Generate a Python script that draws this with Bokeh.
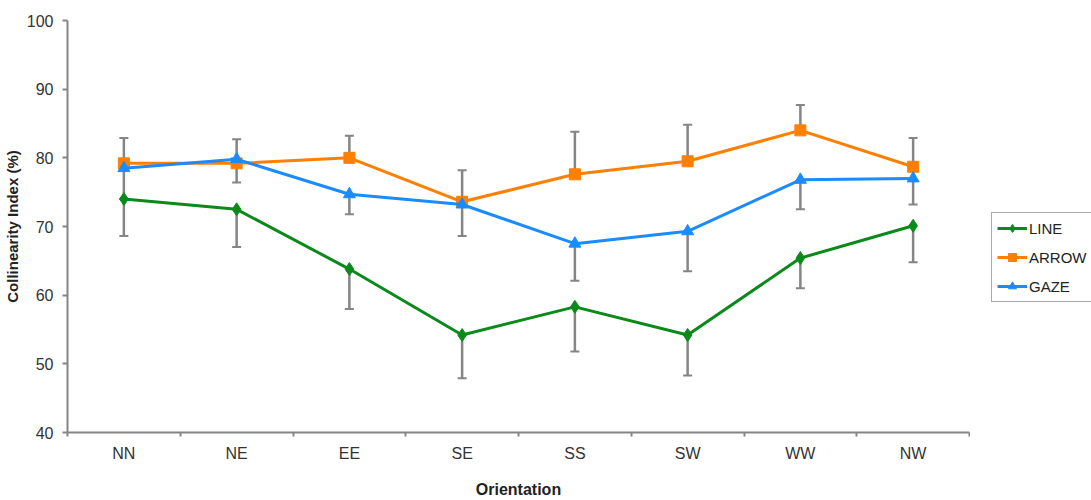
from bokeh.plotting import figure
from bokeh.layouts import row
from bokeh.models import (ColumnDataSource, Range1d, FixedTicker, Whisker, TeeHead,
                          Legend, LegendItem)
from bokeh.embed import file_html
from bokeh.resources import INLINE

# ---- data ----
orientations = ["NN", "NE", "EE", "SE", "SS", "SW", "WW", "NW"]
line_vals = [74.0, 72.5, 63.8, 54.2, 58.3, 54.2, 65.4, 70.1]
arrow_vals = [79.2, 79.2, 80.0, 73.6, 77.6, 79.5, 84.0, 78.7]
gaze_vals = [78.5, 79.8, 74.7, 73.2, 67.5, 69.3, 76.8, 77.0]
# one-sided error bars as drawn in the reference
line_err_minus = [5.4, 5.5, 5.8, 6.3, 6.5, 5.9, 4.4, 5.3]
arrow_err_plus = [3.7, 3.5, 3.2, 4.6, 6.2, 5.3, 3.7, 4.2]
gaze_err_minus = [4.5, 3.4, 2.9, 4.6, 5.4, 5.8, 4.3, 3.8]
y_ticks = [40, 50, 60, 70, 80, 90, 100]
series_labels = ["LINE", "ARROW", "GAZE"]

FONT = "Liberation Sans"
GREEN = "#0a8a1a"
ORANGE = "#ff7f00"
BLUE = "#1a8cff"
GREY = "#858585"

n = len(orientations)
xs = [i + 0.5 for i in range(n)]

H = 500
p = figure(width=970, height=H, output_backend="svg", toolbar_location=None,
           x_range=Range1d(0, n), y_range=Range1d(40, 100),
           min_border_left=67, min_border_top=20, min_border_right=1,
           min_border_bottom=68)
p.outline_line_color = None
p.xgrid.grid_line_color = None
p.ygrid.grid_line_color = None

# x axis: labels at category centres, ticks between categories
p.xaxis.ticker = FixedTicker(ticks=xs, minor_ticks=list(range(n + 1)))
p.xaxis.major_label_overrides = {x: lab for x, lab in zip(xs, orientations)}
p.xaxis.major_tick_out = 0
p.xaxis.major_tick_in = 0
p.xaxis.minor_tick_out = 4
p.xaxis.minor_tick_in = 0
p.xaxis.minor_tick_line_color = GREY
p.xaxis.axis_line_color = GREY
p.xaxis.axis_line_width = 2
p.xaxis.minor_tick_line_width = 2
p.xaxis.major_label_standoff = 8
p.xaxis.axis_label = "Orientation"
p.xaxis.axis_label_standoff = 16
p.xaxis.major_label_text_font_size = "16px"
p.xaxis.axis_label_text_font_size = "16px"

p.yaxis.ticker = FixedTicker(ticks=y_ticks)
p.yaxis.minor_tick_line_color = None
p.yaxis.major_tick_out = 5
p.yaxis.major_tick_in = 0
p.yaxis.major_tick_line_color = GREY
p.yaxis.major_tick_line_width = 2
p.yaxis.axis_line_color = GREY
p.yaxis.axis_line_width = 2
p.yaxis.major_label_standoff = 9
p.yaxis.axis_label = "Collinearity Index (%)"
p.yaxis.axis_label_standoff = 3
p.yaxis.major_label_text_font_size = "16px"
p.yaxis.axis_label_text_font_size = "15px"

for ax in (p.xaxis, p.yaxis):
    ax.major_label_text_font = FONT
    ax.major_label_text_color = "#333333"
    ax.axis_label_text_font = FONT
    ax.axis_label_text_font_style = "bold"
    ax.axis_label_text_color = "#222222"

# error bars
src = ColumnDataSource(dict(
    x=xs,
    line=line_vals, line_lo=[v - e for v, e in zip(line_vals, line_err_minus)],
    arrow=arrow_vals, arrow_hi=[v + e for v, e in zip(arrow_vals, arrow_err_plus)],
    gaze=gaze_vals, gaze_lo=[v - e for v, e in zip(gaze_vals, gaze_err_minus)],
))

def head():
    return TeeHead(size=9, line_color=GREY, line_width=2)

for lo, hi in (("line_lo", "line"), ("arrow", "arrow_hi"), ("gaze_lo", "gaze")):
    w = Whisker(source=src, base="x", lower=lo, upper=hi, dimension="height",
                line_color=GREY, line_width=2.5, upper_head=head(), lower_head=head())
    if hi in ("line", "gaze"):
        w.upper_head = None
    if lo == "arrow":
        w.lower_head = None
    p.add_layout(w)

# side figure that holds the legend (outside the plot area, as in the reference);
# its ranges keep the series' own marks out of view so only the legend shows
p2 = figure(width=121, height=H, output_backend="svg", toolbar_location=None,
            x_range=Range1d(1000, 1001), y_range=Range1d(1000, 1001),
            x_axis_location=None, y_axis_location=None,
            min_border_left=0, min_border_right=0, min_border_top=0,
            min_border_bottom=0)
p2.outline_line_color = None
p2.xgrid.grid_line_color = None
p2.ygrid.grid_line_color = None

items = []
specs = [("line", GREEN, "diamond", 13),
         ("arrow", ORANGE, "square", 11),
         ("gaze", BLUE, "triangle", 12)]
for label, (col, color, marker, size) in zip(series_labels, specs):
    p.line("x", col, source=src, line_color=color, line_width=3)
    p.scatter("x", col, source=src, marker=marker, size=size,
              fill_color=color, line_color=color)
    l2 = p2.line("x", col, source=src, line_color=color, line_width=3)
    s2 = p2.scatter("x", col, source=src, marker=marker, size=10,
                    fill_color=color, line_color=color)
    items.append(LegendItem(label=label, renderers=[l2, s2]))

legend = Legend(items=items, location=(21, 130), orientation="vertical",
                label_text_font=FONT, label_text_font_size="15px",
                label_text_color="#222222", glyph_width=30, glyph_height=20,
                label_height=20, spacing=9, padding=5, margin=0,
                label_standoff=2,
                border_line_color="#555555", border_line_width=1.5,
                background_fill_alpha=1.0)
p2.add_layout(legend, "center")

layout = row(p, p2, spacing=0)
open("out.html", "w").write(file_html(layout, INLINE))
